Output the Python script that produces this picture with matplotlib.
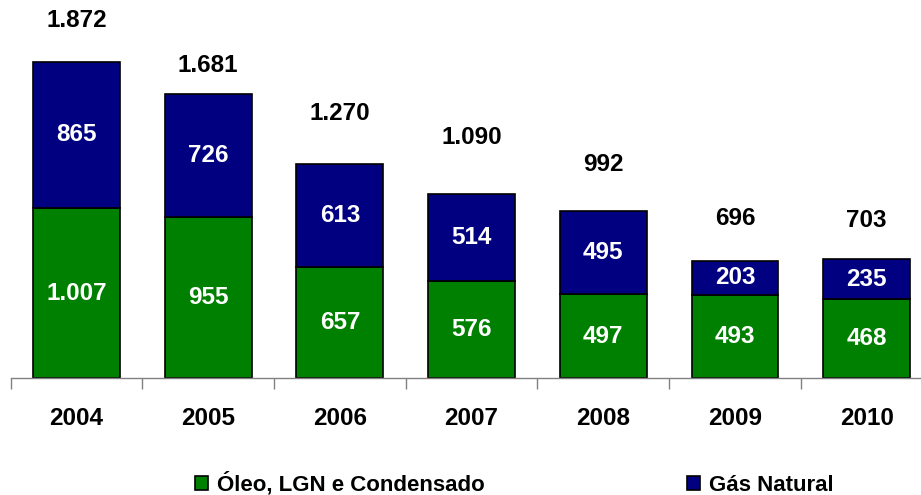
import matplotlib
matplotlib.use("Agg")
import matplotlib.pyplot as plt
import numpy as np
from matplotlib.patches import Patch

plt.rcParams['font.family'] = ['Liberation Sans', 'DejaVu Sans']
plt.rcParams['font.weight'] = 'bold'

years = ['2004', '2005', '2006', '2007', '2008', '2009', '2010']
oleo = [1007, 955, 657, 576, 497, 493, 468]
gas = [865, 726, 613, 514, 495, 203, 235]
totals = [1872, 1681, 1270, 1090, 992, 696, 703]
total_labels = ['1.872', '1.681', '1.270', '1.090', '992', '696', '703']
oleo_labels = ['1.007', '955', '657', '576', '497', '493', '468']
gas_labels = ['865', '726', '613', '514', '495', '203', '235']

GREEN = '#008000'
NAVY = '#000080'

fig = plt.figure(figsize=(9.21, 4.95), dpi=100)
# axis spans slightly past the right edge of the canvas
ax = fig.add_axes([10.6 / 921, 1 - 378 / 495, 922 / 921, 371.4 / 495])

x = np.arange(len(years))
w = 0.66
ax.bar(x, oleo, width=w, color=GREEN, edgecolor='black', linewidth=1.2)
ax.bar(x, gas, width=w, bottom=oleo, color=NAVY, edgecolor='black', linewidth=1.2)

fs = 17.5
for i in range(len(years)):
    ax.text(x[i], oleo[i] / 2, oleo_labels[i], ha='center', va='center',
            color='white', fontsize=fs, fontweight='bold')
    ax.text(x[i], oleo[i] + gas[i] / 2, gas_labels[i], ha='center', va='center',
            color='white', fontsize=fs, fontweight='bold')

# lift of each total label above its bar, in points
lift = [30, 21, 36, 41, 33, 30, 28]
for i in range(len(years)):
    ax.annotate(total_labels[i], (x[i], totals[i]), xytext=(0, lift[i]),
                textcoords='offset points', ha='center', va='center',
                fontsize=fs, fontweight='bold', color='black')

ax.set_xlim(-0.5, len(years) - 0.5)
ax.set_ylim(0, 2200)
ax.set_yticks([])
for s in ['left', 'right', 'top']:
    ax.spines[s].set_visible(False)
ax.spines['bottom'].set_color('#808080')
ax.spines['bottom'].set_linewidth(1.0)

ax.set_xticks(x)
ax.set_xticklabels(years, fontsize=fs, fontweight='bold')
ax.tick_params(axis='x', which='major', length=0, pad=21)
ax.set_xticks(np.arange(len(years)) - 0.5, minor=True)
ax.tick_params(axis='x', which='minor', length=8, color='#808080', width=1.0)

lfs = 16
handles = [Patch(facecolor=GREEN, edgecolor='black', linewidth=1.2),
           Patch(facecolor=NAVY, edgecolor='black', linewidth=1.2)]
fig.legend(handles, ['Óleo, LGN e Condensado', 'Gás Natural'],
           loc='center', bbox_to_anchor=(0.5586, 1 - 484 / 495), ncol=2,
           frameon=False, borderpad=0.1, handlelength=0.6, handleheight=0.6,
           handletextpad=0.4, columnspacing=9.1,
           prop={'weight': 'bold', 'size': lfs})

fig.savefig('out.png', dpi=100)
